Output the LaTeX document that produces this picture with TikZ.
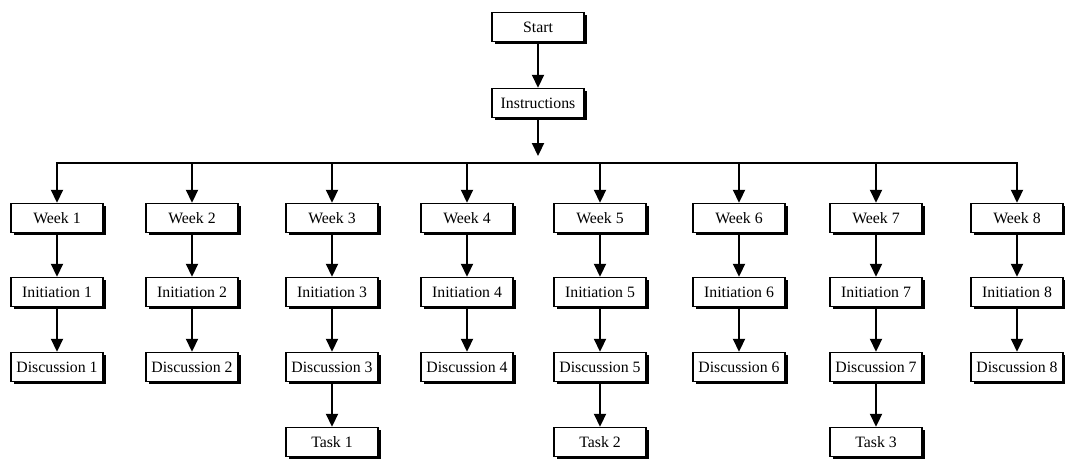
\documentclass[tikz,border=0pt]{standalone}
\usepackage{fontspec}
\setmainfont{Liberation Serif}
\usetikzlibrary{arrows.meta,shadows}
\begin{document}
\begin{tikzpicture}[x=1pt,y=-1pt,
  box/.style={draw, line width=1.5pt, fill=white, minimum width=92pt, minimum height=29pt,
    inner sep=0pt, font=\fontsize{15.8}{18}\selectfont,
    drop shadow={shadow xshift=2.8pt, shadow yshift=-2.8pt, opacity=1, fill=black}},
  arr/.style={line width=2.2pt, -{Triangle[width=12pt,length=13pt]}},
  bar/.style={line width=2.2pt}]
\useasboundingbox (0,0) rectangle (1065,461);
\node[box] (start) at (538,27) {Start};
\node[box] (instr) at (538,103) {Instructions};
\draw[arr] (start) -- (instr);
\coordinate (hub) at (538,156);
\draw[arr] (instr) -- (hub);
\foreach \i/\x in {1/57,2/192,3/332,4/467,5/600,6/739,7/876,8/1017}{
  \coordinate (b\i) at (\x,163);
  \node[box] (w\i) at (\x,218) {Week \i};
  \node[box] (i\i) at (\x,292) {Initiation \i};
  \node[box] (d\i) at (\x,367) {Discussion \i};
  \draw[arr] (b\i) -- (w\i);
  \draw[arr] (w\i) -- (i\i);
  \draw[arr] (i\i) -- (d\i);
}
\draw[bar] ([xshift=-1.1pt]b1) -- ([xshift=1.1pt]b8);
\node[box] (t1) at (332,442) {Task 1};
\node[box] (t2) at (600,442) {Task 2};
\node[box] (t3) at (876,442) {Task 3};
\draw[arr] (d3) -- (t1);
\draw[arr] (d5) -- (t2);
\draw[arr] (d7) -- (t3);
\end{tikzpicture}
\end{document}
